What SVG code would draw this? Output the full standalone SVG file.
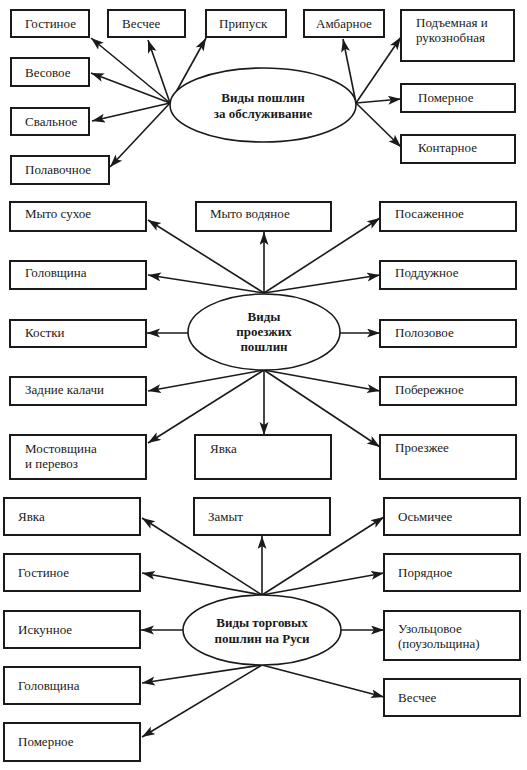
<svg xmlns="http://www.w3.org/2000/svg" width="527" height="770" viewBox="0 0 527 770">
<style>
.box{fill:#fff;stroke:#1a1a1a;stroke-width:2}
.ell{fill:#fff;stroke:#1a1a1a;stroke-width:1.6}
.t{font-family:"Liberation Serif","Times New Roman",serif;font-size:13px;fill:#1a1a1a}
.b{font-family:"Liberation Serif","Times New Roman",serif;font-size:13px;font-weight:bold;fill:#1a1a1a;text-anchor:middle}
.c line{stroke:#1a1a1a;stroke-width:1.6;marker-end:url(#ah)}
</style>
<defs>
<marker id="ah" markerUnits="userSpaceOnUse" markerWidth="14" markerHeight="10" refX="13" refY="4.5" orient="auto">
<path d="M0,0 L13,4.5 L0,9 L3,4.5 z" fill="#1a1a1a"/>
</marker>
</defs>
<rect width="527" height="770" fill="#fff"/>

<!-- Section 1 -->
<g class="c" id="conn1">
<line x1="170" y1="103" x2="91" y2="38"/>
<line x1="170" y1="103" x2="148" y2="40"/>
<line x1="170" y1="103" x2="206" y2="38"/>
<line x1="170" y1="103" x2="91" y2="73"/>
<line x1="170" y1="103" x2="92" y2="121"/>
<line x1="170" y1="103" x2="110" y2="167"/>
<line x1="356" y1="103" x2="343" y2="39"/>
<line x1="356" y1="103" x2="401" y2="37"/>
<line x1="356" y1="103" x2="401" y2="99"/>
<line x1="356" y1="103" x2="401" y2="147"/>
</g>
<g id="e1"><ellipse class="ell" cx="263" cy="105" rx="93" ry="37"/>
<text class="b" x="263" y="102">Виды пошлин</text>
<text class="b" x="263" y="118">за обслуживание</text></g>
<g id="n1a"><rect class="box" x="11" y="10" width="78" height="27"/><text class="t" x="25" y="28">Гостиное</text></g>
<g id="n1b"><rect class="box" x="108" y="10" width="77" height="27"/><text class="t" x="122" y="28">Весчее</text></g>
<g id="n1c"><rect class="box" x="206" y="10" width="80" height="27"/><text class="t" x="219" y="28">Припуск</text></g>
<g id="n1d"><rect class="box" x="304" y="10" width="80" height="27"/><text class="t" x="316" y="28">Амбарное</text></g>
<g id="n1e"><rect class="box" x="401" y="10" width="113" height="51"/><text class="t" x="416" y="27">Подъемная и</text><text class="t" x="416" y="42">рукознобная</text></g>
<g id="n1f"><rect class="box" x="11" y="58" width="78" height="28"/><text class="t" x="25" y="77">Весовое</text></g>
<g id="n1g"><rect class="box" x="11" y="108" width="78" height="27"/><text class="t" x="25" y="126">Свальное</text></g>
<g id="n1h"><rect class="box" x="11" y="156" width="98" height="28"/><text class="t" x="25" y="174">Полавочное</text></g>
<g id="n1i"><rect class="box" x="401" y="84" width="114" height="28"/><text class="t" x="418" y="102">Померное</text></g>
<g id="n1j"><rect class="box" x="401" y="135" width="114" height="28"/><text class="t" x="418" y="152">Контарное</text></g>

<!-- Section 2 -->
<g class="c" id="conn2">
<line x1="264" y1="293" x2="148" y2="220"/>
<line x1="264" y1="293" x2="148" y2="275"/>
<line x1="264" y1="293" x2="264" y2="232"/>
<line x1="264" y1="293" x2="380" y2="218"/>
<line x1="264" y1="293" x2="380" y2="275"/>
<line x1="188" y1="333" x2="147" y2="333"/>
<line x1="340" y1="333" x2="380" y2="333"/>
<line x1="264" y1="370" x2="148" y2="391"/>
<line x1="264" y1="370" x2="148" y2="443"/>
<line x1="264" y1="370" x2="264" y2="435"/>
<line x1="264" y1="370" x2="380" y2="391"/>
<line x1="264" y1="370" x2="380" y2="447"/>
</g>
<g id="e2"><ellipse class="ell" cx="264" cy="332" rx="76" ry="38"/>
<text class="b" x="264" y="321">Виды</text>
<text class="b" x="264" y="336">проезжих</text>
<text class="b" x="264" y="351">пошлин</text></g>
<g id="n2a"><rect class="box" x="10" y="202" width="136" height="29"/><text class="t" x="25" y="218">Мыто сухое</text></g>
<g id="n2b"><rect class="box" x="196" y="202" width="135" height="29"/><text class="t" x="210" y="218">Мыто водяное</text></g>
<g id="n2c"><rect class="box" x="380" y="202" width="136" height="29"/><text class="t" x="395" y="218">Посаженное</text></g>
<g id="n2d"><rect class="box" x="10" y="261" width="136" height="28"/><text class="t" x="25" y="277">Головщина</text></g>
<g id="n2e"><rect class="box" x="380" y="261" width="136" height="28"/><text class="t" x="395" y="277">Поддужное</text></g>
<g id="n2f"><rect class="box" x="10" y="320" width="136" height="27"/><text class="t" x="25" y="337">Костки</text></g>
<g id="n2g"><rect class="box" x="380" y="320" width="136" height="27"/><text class="t" x="395" y="337">Полозовое</text></g>
<g id="n2h"><rect class="box" x="10" y="377" width="136" height="28"/><text class="t" x="25" y="394">Задние калачи</text></g>
<g id="n2i"><rect class="box" x="380" y="377" width="136" height="28"/><text class="t" x="395" y="394">Побережное</text></g>
<g id="n2j"><rect class="box" x="10" y="435" width="136" height="44"/><text class="t" x="25" y="453">Мостовщина</text><text class="t" x="25" y="468">и перевоз</text></g>
<g id="n2k"><rect class="box" x="195" y="435" width="136" height="44"/><text class="t" x="210" y="453">Явка</text></g>
<g id="n2l"><rect class="box" x="380" y="435" width="136" height="44"/><text class="t" x="395" y="452">Проезжее</text></g>

<!-- Section 3 -->
<g class="c" id="conn3">
<line x1="262" y1="595" x2="142" y2="518"/>
<line x1="262" y1="595" x2="142" y2="573"/>
<line x1="262" y1="595" x2="262" y2="536"/>
<line x1="262" y1="595" x2="384" y2="517"/>
<line x1="262" y1="595" x2="384" y2="573"/>
<line x1="183" y1="630" x2="141" y2="630"/>
<line x1="341" y1="630" x2="384" y2="630"/>
<line x1="262" y1="665" x2="142" y2="683"/>
<line x1="262" y1="665" x2="142" y2="737"/>
<line x1="262" y1="665" x2="384" y2="697"/>
</g>
<g id="e3"><ellipse class="ell" cx="262" cy="630" rx="79" ry="35"/>
<text class="b" x="262" y="627">Виды торговых</text>
<text class="b" x="262" y="643">пошлин на Руси</text></g>
<g id="n3a"><rect class="box" x="4" y="498" width="136" height="37"/><text class="t" x="18" y="521">Явка</text></g>
<g id="n3b"><rect class="box" x="194" y="498" width="136" height="37"/><text class="t" x="208" y="521">Замыт</text></g>
<g id="n3c"><rect class="box" x="384" y="498" width="136" height="37"/><text class="t" x="398" y="521">Осьмичее</text></g>
<g id="n3d"><rect class="box" x="4" y="554" width="136" height="37"/><text class="t" x="18" y="577">Гостиное</text></g>
<g id="n3e"><rect class="box" x="384" y="554" width="136" height="37"/><text class="t" x="398" y="577">Порядное</text></g>
<g id="n3f"><rect class="box" x="4" y="611" width="136" height="37"/><text class="t" x="18" y="634">Искунное</text></g>
<g id="n3g"><rect class="box" x="384" y="611" width="136" height="49"/><text class="t" x="398" y="633">Узольцовое</text><text class="t" x="398" y="648">(поузольщина)</text></g>
<g id="n3h"><rect class="box" x="4" y="667" width="136" height="37"/><text class="t" x="18" y="690">Головщина</text></g>
<g id="n3i"><rect class="box" x="384" y="679" width="136" height="37"/><text class="t" x="398" y="702">Весчее</text></g>
<g id="n3j"><rect class="box" x="4" y="723" width="136" height="38"/><text class="t" x="18" y="746">Померное</text></g>
</svg>
